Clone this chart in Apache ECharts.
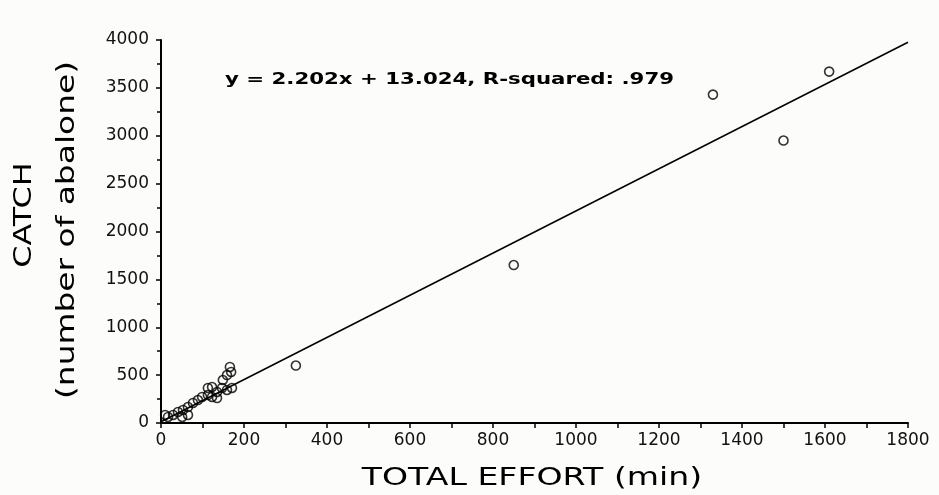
<!DOCTYPE html>
<html>
<head>
<meta charset="utf-8">
<script src="https://cdn.jsdelivr.net/npm/echarts@6/dist/echarts.min.js"></script>
<style>
html,body{margin:0;padding:0;background:#fcfcfa;}
#chart{width:939px;height:495px;}
</style>
</head>
<body>
<div id="chart"></div>
<script>
// Data
var effort = [1610, 1330, 1500, 850, 325, 166, 169, 159, 149, 171, 159, 147, 135, 123, 113, 123, 135, 113, 99, 89, 77, 65, 53, 41, 29, 17, 10, 51, 65];
var catchN = [3670, 3430, 2950, 1650, 600, 585, 533, 501, 449, 366, 345, 366, 324, 376, 366, 272, 261, 292, 272, 240, 209, 167, 136, 115, 84, 63, 84, 63, 84];
var fitSlope = 2.202;
var fitIntercept = 13.024;
var fitRange = [0, 1800];
var equationText = 'y = 2.202x + 13.024, R-squared: .979';
var xTitle = 'TOTAL EFFORT (min)';
var yTitle1 = 'CATCH';
var yTitle2 = '(number of abalone)';

var points = effort.map(function (x, i) { return [x, catchN[i]]; });
var fitLine = fitRange.map(function (x) { return [x, fitSlope * x + fitIntercept]; });

var chart = echarts.init(document.getElementById('chart'));
var font = 'DejaVu Sans';
function plain(v) { return String(v); }
chart.setOption({
  backgroundColor: '#fcfcfa',
  animation: false,
  grid: { left: 161, top: 40, right: 31, bottom: 72 },
  xAxis: {
    type: 'value', min: 0, max: 1800, interval: 200,
    axisLine: { lineStyle: { color: '#000', width: 2 } },
    axisTick: { show: true, length: 5, lineStyle: { color: '#000', width: 1.5 } },
    minorTick: { show: true, splitNumber: 2, length: 5, lineStyle: { color: '#000', width: 1.5 } },
    splitLine: { show: false },
    axisLabel: { color: '#111', fontFamily: font, fontSize: 17, margin: 9, formatter: plain }
  },
  yAxis: {
    type: 'value', min: 0, max: 4000, interval: 500,
    axisLine: { show: true, lineStyle: { color: '#000', width: 2 } },
    axisTick: { show: true, length: 5, lineStyle: { color: '#000', width: 1.5 } },
    minorTick: { show: true, splitNumber: 2, length: 4, lineStyle: { color: '#000', width: 1.5 } },
    splitLine: { show: false },
    axisLabel: { color: '#111', fontFamily: font, fontSize: 17, margin: 12, formatter: plain }
  },
  series: [
    {
      type: 'line', data: fitLine, symbol: 'none',
      lineStyle: { color: '#000', width: 1.5 }, z: 2
    },
    {
      type: 'scatter', data: points, symbol: 'circle', symbolSize: 9,
      itemStyle: { color: 'rgba(0,0,0,0)', borderColor: '#000', borderWidth: 1.6 }, z: 3
    }
  ],
  graphic: [
    { type: 'text', x: 225, y: 80, scaleX: 1.33,
      style: { text: equationText, font: 'bold 16px "DejaVu Sans"', fill: '#000', align: 'left', verticalAlign: 'middle' } },
    { type: 'text', x: 532, y: 479, scaleX: 1.38,
      style: { text: xTitle, font: '24px "DejaVu Sans"', fill: '#000', align: 'center', verticalAlign: 'middle' } },
    { type: 'text', x: 25, y: 215, rotation: Math.PI / 2, scaleX: 1.33,
      style: { text: yTitle1, font: '24px "DejaVu Sans"', fill: '#000', align: 'center', verticalAlign: 'middle' } },
    { type: 'text', x: 68, y: 230, rotation: Math.PI / 2, scaleX: 1.37,
      style: { text: yTitle2, font: '24px "DejaVu Sans"', fill: '#000', align: 'center', verticalAlign: 'middle' } }
  ]
});
</script>
</body>
</html>
